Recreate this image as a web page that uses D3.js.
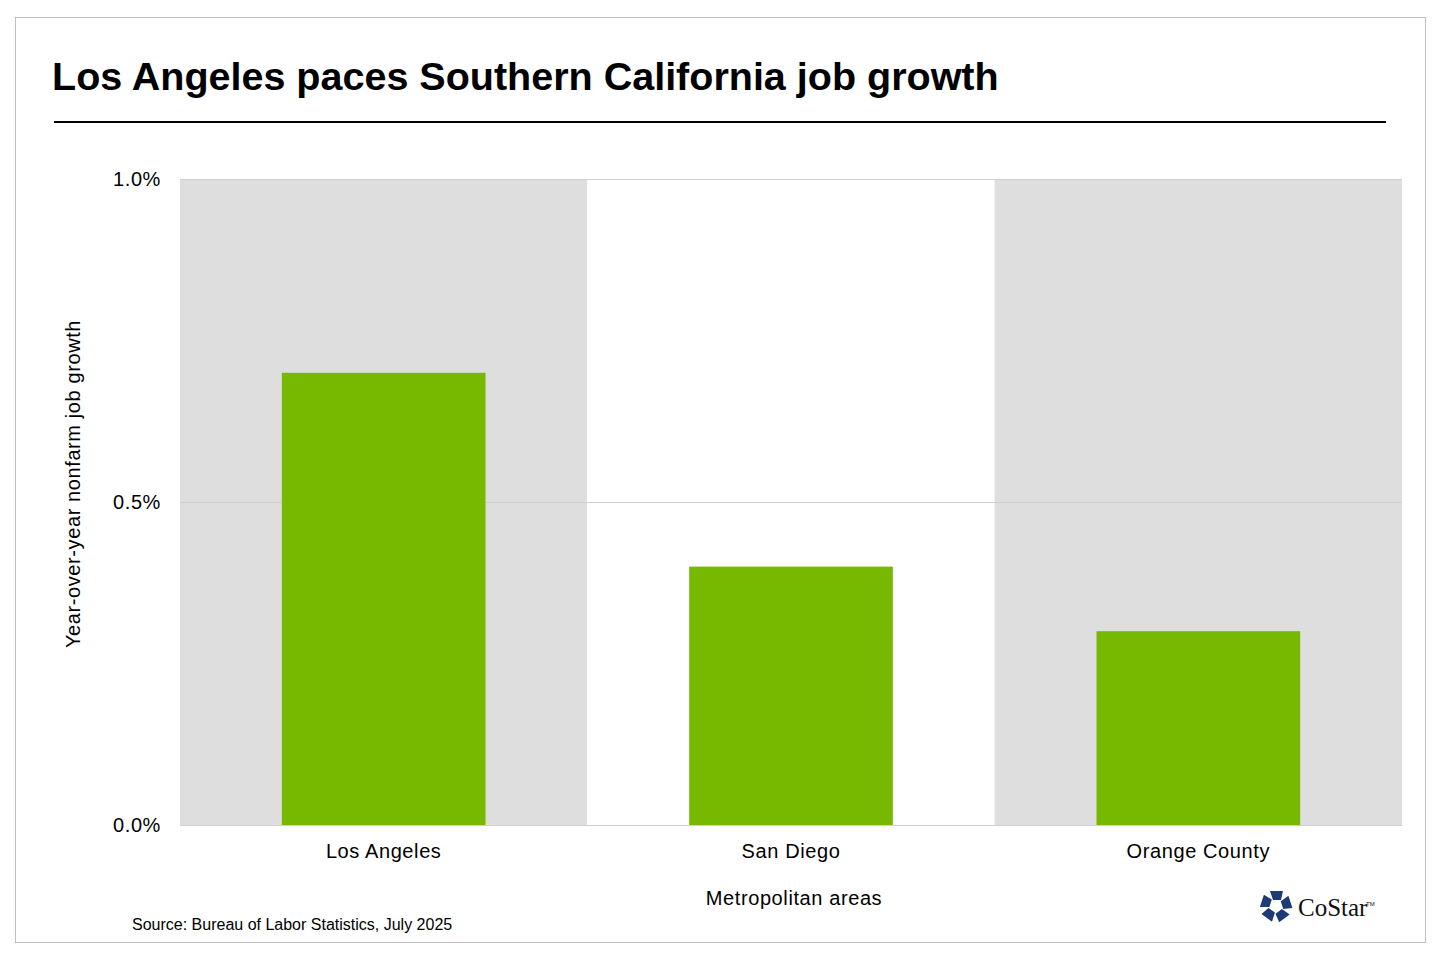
<!DOCTYPE html>
<html><head><meta charset="utf-8">
<script src="https://cdn.jsdelivr.net/npm/d3@7"></script>
<style>body{margin:0;background:#fff}text{font-family:Arial,"Liberation Sans",sans-serif}</style>
</head><body>
<svg width="1440" height="960"></svg>
<script>
// Dati
const categorie = ["Los Angeles", "San Diego", "Orange County"];
const valori = [0.7, 0.4, 0.3];
const ticks = [0, 0.5, 1.0];

const svg = d3.select("svg");
svg.append("rect").attr("x", 15.5).attr("y", 17.5).attr("width", 1410).attr("height", 925)
  .attr("fill", "none").attr("stroke", "#bfbfbf");

svg.append("text").attr("x", 52).attr("y", 90).attr("font-size", 39.5).attr("font-weight", "bold")
  .text("Los Angeles paces Southern California job growth");
svg.append("line").attr("x1", 54).attr("x2", 1386).attr("y1", 122).attr("y2", 122)
  .attr("stroke", "#000").attr("stroke-width", 2);

const x = d3.scaleBand().domain(categorie).range([180, 1402]);
const y = d3.scaleLinear().domain([0, 1]).range([825, 179]);

// Bande alternate
svg.selectAll(".band").data(categorie).join("rect")
  .attr("x", d => x(d)).attr("y", y(1)).attr("width", x.bandwidth()).attr("height", y(0) - y(1))
  .attr("fill", (d, i) => i % 2 === 0 ? "#dedede" : "#fff");

// Griglia
svg.selectAll(".grid").data(ticks).join("line")
  .attr("x1", 180).attr("x2", 1402).attr("y1", d => y(d) + 0.5).attr("y2", d => y(d) + 0.5)
  .attr("stroke", "#d0d0d0");

// Barre
svg.selectAll(".bar").data(valori).join("rect")
  .attr("x", (d, i) => x(categorie[i]) + x.bandwidth() / 4).attr("width", x.bandwidth() / 2)
  .attr("y", d => y(d)).attr("height", d => y(0) - y(d)).attr("fill", "#76b900");

const lab = sel => sel.attr("font-size", 20).attr("letter-spacing", 0.6);

// Etichette asse y
svg.selectAll(".yt").data(ticks).join("text")
  .attr("x", 161).attr("y", d => y(d) + 7).attr("text-anchor", "end").call(lab)
  .text(d => d.toFixed(1) + "%");

// Etichette asse x
svg.selectAll(".xt").data(categorie).join("text")
  .attr("x", d => x(d) + x.bandwidth() / 2).attr("y", 858).attr("text-anchor", "middle")
  .call(lab).text(d => d);

svg.append("text").attr("x", 794).attr("y", 905).attr("text-anchor", "middle").call(lab)
  .text("Metropolitan areas");
svg.append("text").attr("transform", "translate(80,484) rotate(-90)").attr("text-anchor", "middle")
  .call(lab).text("Year-over-year nonfarm job growth");
svg.append("text").attr("x", 132).attr("y", 930).attr("font-size", 16).text("Source: Bureau of Labor Statistics, July 2025");

// Logo CoStar
const logo = svg.append("g").attr("transform", "translate(1276,906)");
for (let k = 0; k < 5; k++) {
  logo.append("path").attr("d", "M-6,-15 L7,-15 L5,-6 L-3,-6 Z")
    .attr("fill", "#1d3b74").attr("transform", "rotate(" + (k * 72) + ")");
}
logo.append("text").attr("x", 22).attr("y", 10).style("font-family", "'Liberation Serif',serif")
  .attr("font-size", 25).attr("fill", "#111").text("CoStar");
logo.append("text").attr("x", 90).attr("y", 0).attr("font-size", 6).attr("fill", "#111").text("TM");
</script>
</body></html>
